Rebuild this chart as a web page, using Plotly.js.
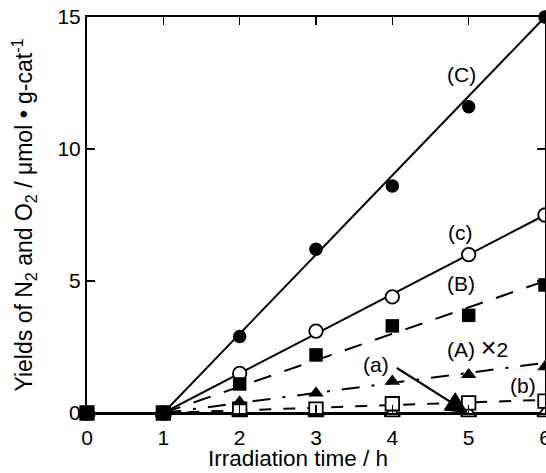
<!DOCTYPE html>
<html>
<head>
<meta charset="utf-8">
<script src="https://cdn.plot.ly/plotly-3.0.1.min.js"></script>
<style>html,body{margin:0;padding:0;background:#fff;}#chart{width:546px;height:473px;}</style>
</head>
<body>
<div id="chart"></div>
<script>
// Irradiation time (h)
var time = [0, 1, 2, 3, 4, 5, 6];
// Series values
var seriesC = [0, 0, 2.9, 6.2, 8.6, 11.6, 15.0];   // (C) filled circles
var seriesc = [0, 0, 1.5, 3.1, 4.4, 6.0, 7.5];     // (c) open circles
var seriesB = [0, 0, 1.1, 2.2, 3.3, 3.7, 4.85];    // (B) filled squares
var seriesA = [0, 0, 0.42, 0.75, 1.2, 1.45, 1.75]; // (A) x2 filled triangles
var seriesb = [0, 0, 0.15, 0.15, 0.35, 0.38, 0.45];// (b) open squares
var seriesa = [0, 0, 0, 0, 0, 0, 0];               // (a) open triangles
// Fitted lines
var fitX = [1, 6];
var fitC = [0, 15];
var fitc = [0, 7.5];
var fitB = [0, 5.0];
var fitA = [0, 1.9];
var fitb = [0, 0.5];
var baseX = [0, 6];
var baseY = [0, 0];
var xTicks = [0, 1, 2, 3, 4, 5, 6];
var yTicks = [0, 5, 10, 15];

var K = '#000';
function line(x, y, dash) {
  return {x: x, y: y, mode: 'lines', line: {color: K, width: 2, dash: dash}, hoverinfo: 'skip', showlegend: false, cliponaxis: false};
}
function pts(x, y, sym, open) {
  return {x: x, y: y, mode: 'markers', showlegend: false, cliponaxis: false,
    marker: {symbol: sym, size: 13.5, color: open ? '#fff' : K, line: {color: K, width: open ? 1.8 : 0}}};
}
var data = [
  line(baseX, baseY, 'solid'),
  line(fitX, fitC, 'solid'),
  line(fitX, fitc, 'solid'),
  line(fitX, fitB, '18px,14px'),
  line(fitX, fitA, '18px,12px,3px,12px'),
  line(fitX, fitb, '12px,12px'),
  pts(time, seriesa, 'triangle-up', true),
  pts(time, seriesb, 'square', true),
  pts(time, seriesA, 'triangle-up', false),
  pts(time, seriesc, 'circle', true),
  pts(time, seriesC, 'circle', false),
  pts(time, seriesB, 'square', false)
];
var F = 'Liberation Sans, Arial, sans-serif';
function ann(text, x, y) {
  return {text: text, x: x, y: y, xref: 'x', yref: 'y', showarrow: false, font: {family: F, size: 21, color: K}};
}
var layout = {
  width: 546, height: 473,
  margin: {l: 87, r: 1, t: 17, b: 60},
  paper_bgcolor: '#fff', plot_bgcolor: '#fff',
  font: {family: F, size: 21, color: K},
  showlegend: false,
  xaxis: {range: [0, 6], tickvals: xTicks, ticks: 'inside', ticklen: 8, tickwidth: 1.5, tickcolor: K,
    showline: true, linewidth: 2, linecolor: K, mirror: 'ticks', showgrid: false, zeroline: false,
    tickfont: {size: 21}, ticklabelstandoff: 5, ticklabeloverflow: 'allow'},
  yaxis: {range: [0, 15], tickvals: yTicks, ticks: 'inside', ticklen: 8, tickwidth: 1.5, tickcolor: K,
    showline: true, linewidth: 2, linecolor: K, mirror: 'ticks', showgrid: false, zeroline: false,
    tickfont: {size: 21},
    title: {text: 'Yields of N<sub>2</sub> and O<sub>2</sub> / μmol • g-cat<sup>-1</sup>', font: {size: 23}, standoff: 18}},
  annotations: [
    {text: 'Irradiation time / h', xref: 'paper', yref: 'paper', x: 0.461, y: -0.116,
      xanchor: 'center', yanchor: 'middle', showarrow: false, font: {family: F, size: 22.5, color: K}},
    ann('(C)', 4.9, 12.84),
    ann('(c)', 4.89, 6.82),
    ann('(B)', 4.9, 4.89),
    ann('(A) <span style="font-size:27px">×</span>2', 5.11, 2.46),
    ann('(a)', 3.79, 1.82),
    ann('(b)', 5.71, 1.06),
    {text: '', x: 4.99, y: 0.0, ax: 4.04, ay: 1.74, axref: 'x', ayref: 'y', xref: 'x', yref: 'y',
      showarrow: true, arrowhead: 2, arrowsize: 2.0, arrowwidth: 2.2, arrowcolor: K, standoff: 0}
  ]
};
Plotly.newPlot('chart', data, layout, {staticPlot: true});
</script>
</body>
</html>
